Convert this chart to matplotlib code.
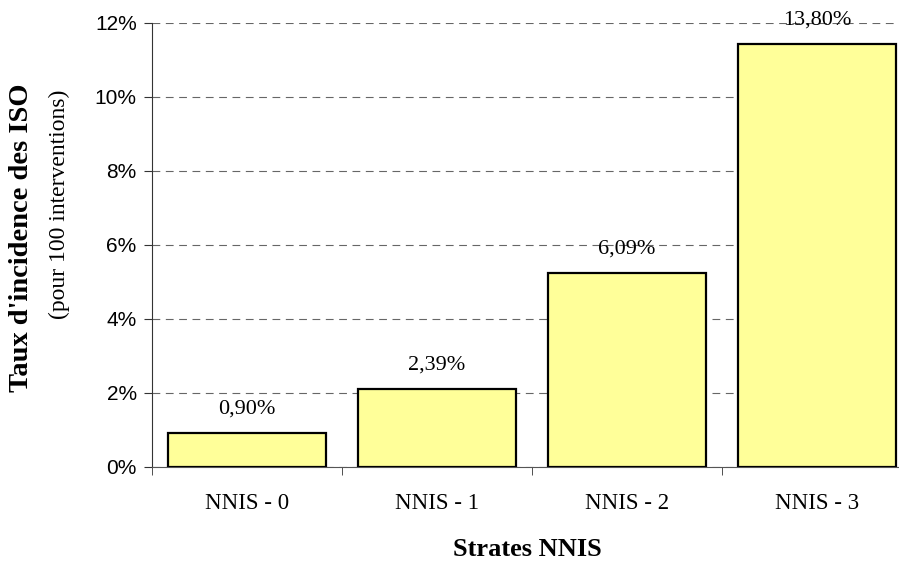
import matplotlib.pyplot as plt

categories = ['NNIS - 0', 'NNIS - 1', 'NNIS - 2', 'NNIS - 3']
heights = [0.93, 2.12, 5.25, 11.44]
value_labels = ['0,90%', '2,39%', '6,09%', '13,80%']
yticks = [0, 2, 4, 6, 8, 10, 12]

fig = plt.figure(figsize=(8.99, 5.62), dpi=100)
W, H = 899, 562
ax = fig.add_axes([152 / W, 95 / H, (912 - 152) / W, (468 - 24) / H])

x = range(len(categories))
ax.bar(x, heights, width=0.83, color='#FFFF99', edgecolor='black', linewidth=1.6, zorder=3)

for i, (h, lab) in enumerate(zip(heights, value_labels)):
    ax.annotate(lab, (i, h), xytext=(0, 17), textcoords='offset points',
                ha='center', va='center', fontsize=16, family='Liberation Serif', zorder=4)

ax.set_xlim(-0.5, 3.5)
ax.set_ylim(0, 12)
ax.set_yticks(yticks)
ax.set_yticklabels([f'{t}%' for t in yticks], family='Liberation Sans', fontsize=15)
ax.yaxis.grid(True, linestyle=(0, (7, 5)), color='#666666', linewidth=0.8, zorder=0)

ax.set_xticks(list(x))
ax.set_xticklabels(categories, family='Liberation Serif', fontsize=16.5)
ax.set_xticks([-0.5, 0.5, 1.5, 2.5, 3.5], minor=True)
ax.tick_params(axis='x', which='major', length=0, pad=19)
ax.tick_params(axis='x', which='minor', length=6, direction='out', color='#333333')
ax.tick_params(axis='y', length=6, direction='out', pad=5, color='#333333')

for s in ['top', 'right']:
    ax.spines[s].set_visible(False)
ax.spines['left'].set_color('#333333')
ax.spines['bottom'].set_color('#555555')

fig.text(527 / W, 1 - 550 / H, 'Strates NNIS', ha='center', va='center',
         fontsize=19, fontweight='bold', family='Liberation Serif')
fig.text(22 / W, 1 - 238 / H, "Taux d'incidence des ISO", rotation=90, ha='center', va='center',
         fontsize=20.5, fontweight='bold', family='Liberation Serif')
fig.text(59 / W, 1 - 204 / H, '(pour 100 interventions)', rotation=90, ha='center', va='center',
         fontsize=17, family='Liberation Serif')

fig.savefig('out.png', dpi=100)
